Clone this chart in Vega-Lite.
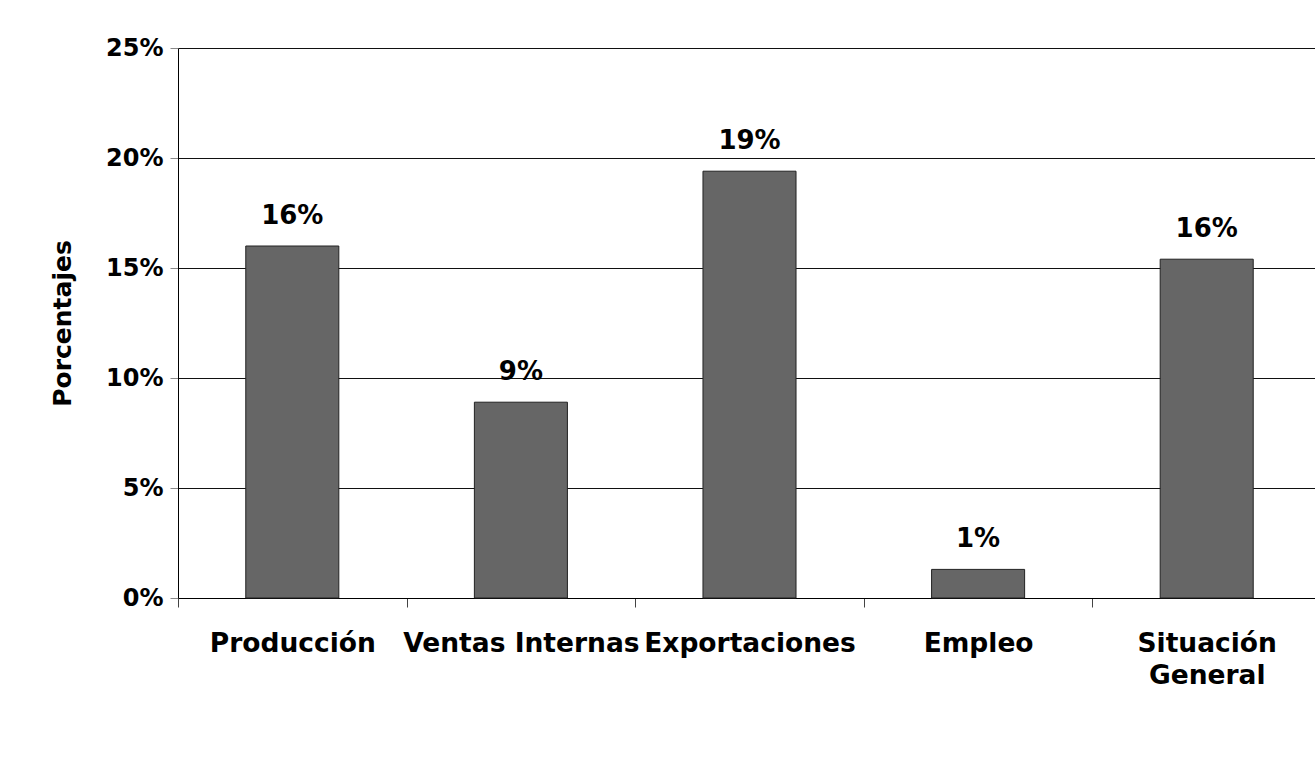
{
  "$schema": "https://vega.github.io/schema/vega-lite/v6.json",
  "width": 1137,
  "height": 550,
  "autosize": {"type": "none"},
  "padding": {"left": 178, "top": 48, "right": 0, "bottom": 166},
  "background": "white",
  "config": {"view": {"stroke": null}, "font": "DejaVu Sans"},
  "data": {
    "values": [
      {"categoria": "Producción", "valor": 0.160, "etiqueta": "16%"},
      {"categoria": "Ventas Internas", "valor": 0.089, "etiqueta": "9%"},
      {"categoria": "Exportaciones", "valor": 0.194, "etiqueta": "19%"},
      {"categoria": "Empleo", "valor": 0.013, "etiqueta": "1%"},
      {"categoria": "Situación General", "valor": 0.154, "etiqueta": "16%"}
    ]
  },
  "encoding": {
    "x": {
      "field": "categoria",
      "type": "nominal",
      "sort": null,
      "scale": {"range": [0, 1143], "paddingInner": 0, "paddingOuter": 0},
      "axis": {
        "title": null,
        "labelAngle": 0,
        "labelFont": "DejaVu Sans",
        "labelFontWeight": "bold",
        "labelFontSize": 26.5,
        "labelColor": "#000000",
        "labelLimit": 0,
        "labelPadding": 23,
        "labelLineHeight": 32,
        "labelExpr": "datum.label == 'Situación General' ? ['Situación', 'General'] : datum.label",
        "tickSize": 9,
        "tickColor": "#444444",
        "tickBand": "extent",
        "domainColor": "#000000",
        "grid": false
      }
    },
    "y": {
      "field": "valor",
      "type": "quantitative",
      "scale": {"domain": [0, 0.25], "nice": false},
      "axis": {
        "title": "Porcentajes",
        "titleFont": "DejaVu Sans",
        "titleFontWeight": "bold",
        "titleFontSize": 25,
        "titleColor": "#000000",
        "titlePadding": 30,
        "format": ".0%",
        "values": [0, 0.05, 0.1, 0.15, 0.2, 0.25],
        "grid": true,
        "gridColor": "#111111",
        "gridOpacity": 1,
        "labelFont": "DejaVu Sans",
        "labelFontWeight": "bold",
        "labelFontSize": 24,
        "labelColor": "#000000",
        "labelPadding": 7,
        "tickSize": 8,
        "tickColor": "#888888",
        "domainColor": "#000000"
      }
    }
  },
  "layer": [
    {"mark": {"type": "bar", "width": {"band": 0.407}, "fill": "#666666", "stroke": "#222222", "strokeWidth": 1}},
    {
      "mark": {"type": "text", "baseline": "alphabetic", "dy": -22, "font": "DejaVu Sans", "fontWeight": "bold", "fontSize": 26, "color": "#000000"},
      "encoding": {"text": {"field": "etiqueta"}}
    }
  ]
}
